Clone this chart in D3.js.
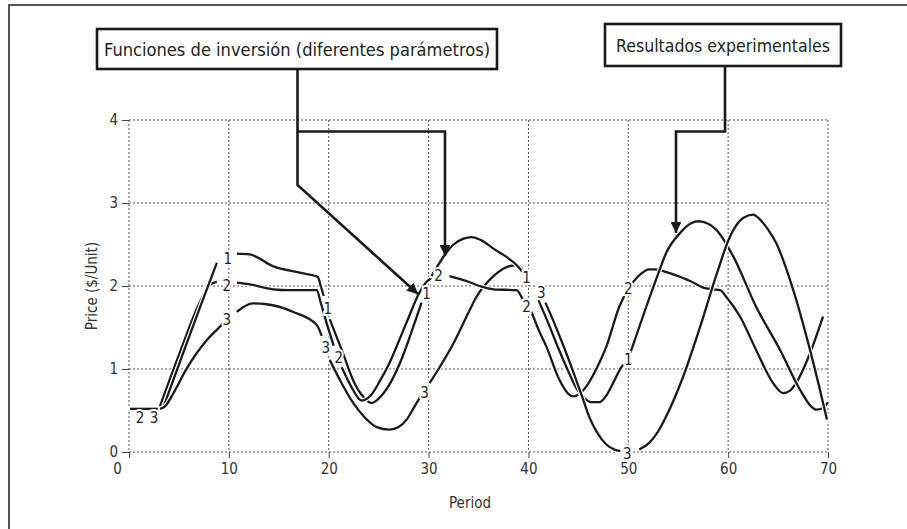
<!DOCTYPE html>
<html>
<head>
<meta charset="utf-8">
<script src="https://cdn.jsdelivr.net/npm/d3@7"></script>
<style>
  body { margin: 0; background: #fff; }
  svg { display: block; font-family: "DejaVu Sans Condensed", "DejaVu Sans", sans-serif; }
</style>
</head>
<body>
<div id="chart"></div>
<script>
const width = 907, height = 529;
const margin = {top: 120, right: 79, bottom: 77, left: 129};
const innerWidth = width - margin.left - margin.right;
const innerHeight = height - margin.top - margin.bottom;

// axis ticks
const periodTicks = [0, 10, 20, 30, 40, 50, 60, 70];
const priceTicks = [0, 1, 2, 3, 4];

// curve pieces [period, price], broken where the 1/2/3 labels sit
const flatStart = [[0.1, 0.52], [3.1, 0.52]];
const rise2 = [[3.1, 0.55], [5, 1.17], [7, 1.78], [7.9, 1.98], [8.3, 2.03], [8.8, 2.05]];
const rise1 = [[3.5, 0.56], [5.2, 1.12], [7.1, 1.74], [8.8, 2.28]];
const rise3 = [[3.1, 0.52], [3.6, 0.55], [4.5, 0.72], [5.7, 0.99], [7.8, 1.35], [9.1, 1.51], [9.4, 1.55]];

const top1 = [[10.8, 2.39], [12.1, 2.38], [14.4, 2.24], [17.1, 2.16], [18.9, 2.11], [19.2, 2.0], [19.5, 1.88]];
const top2 = [[10.8, 2.04], [12.1, 2.02], [14.4, 1.96], [16, 1.95], [18.8, 1.95], [19.2, 1.8], [19.8, 1.55], [20.5, 1.28]];
const top3 = [[10.8, 1.69], [12.4, 1.79], [13.8, 1.78], [16.4, 1.69], [18.8, 1.53], [19.3, 1.4]];

const dip1 = [[20.1, 1.6], [21.4, 1.2], [22.5, 0.85], [23.5, 0.66], [24.3, 0.59], [25.3, 0.68], [26.3, 0.86], [27.3, 1.12], [28.3, 1.45], [29.3, 1.8]];
const dip2 = [[21.3, 1.02], [22.2, 0.8], [23.3, 0.62], [24.2, 0.68], [25.1, 0.85], [26, 1.05], [27, 1.33], [28, 1.62], [29, 1.9], [29.8, 2.05], [30.3, 2.1]];
const dip3 = [[20.1, 1.11], [21.2, 0.85], [22.4, 0.6], [23.5, 0.43], [24.8, 0.3], [26.1, 0.27], [27, 0.3], [27.8, 0.39], [28.6, 0.55], [29.2, 0.67]];

const hump1 = [[30.3, 2.12], [31, 2.26], [31.6, 2.37], [32.5, 2.5], [33.5, 2.57], [34.3, 2.59], [35.3, 2.55], [36.5, 2.45], [37.8, 2.35], [39, 2.23], [39.4, 2.17]];
const hump2 = [[32.1, 2.12], [33.8, 2.06], [35.1, 2.0], [36.5, 1.96], [38.8, 1.95], [39.3, 1.87], [39.5, 1.82]];
const hump3 = [[30.1, 0.83], [31, 1.0], [32.5, 1.31], [34, 1.68], [34.8, 1.87], [36.5, 2.12], [38.1, 2.24], [38.8, 2.25], [39.4, 2.2]];

const fall2 = [[40.3, 1.69], [41.1, 1.45], [41.8, 1.27], [43.1, 0.87], [44, 0.7], [44.5, 0.67], [45, 0.69], [45.8, 0.79], [46.8, 1.0], [47.8, 1.27], [49.1, 1.75], [49.6, 1.88]];
const fall1 = [[41.0, 1.83], [42, 1.55], [43, 1.25], [44, 0.97], [44.8, 0.77], [45.6, 0.65], [46.3, 0.6], [47.1, 0.6], [47.8, 0.68], [48.6, 0.86], [49.3, 1.02], [49.5, 1.05]];
const fall3 = [[41.7, 1.8], [42.6, 1.55], [43.6, 1.25], [44.6, 0.93], [45.4, 0.66], [46.1, 0.42], [46.9, 0.23], [47.8, 0.09], [48.6, 0.03], [49.2, 0.01]];

const wave2 = [[50.3, 2.02], [51.2, 2.14], [52.1, 2.2], [52.6, 2.2], [53.5, 2.18], [54.5, 2.14], [56.2, 2.06], [57.5, 1.98], [58.5, 1.96], [59.2, 1.95], [59.8, 1.87], [61.2, 1.63], [62.8, 1.23], [64.5, 0.83], [65.5, 0.71], [66.2, 0.74], [66.8, 0.83], [68.2, 1.19], [69.5, 1.63]];
const wave1 = [[50.2, 1.19], [51.8, 1.75], [53, 2.15], [53.8, 2.4], [55.2, 2.64], [56.2, 2.75], [57, 2.78], [58, 2.75], [58.8, 2.68], [60.5, 2.36], [62.8, 1.75], [65.2, 1.23], [67.2, 0.75], [68.3, 0.55], [68.8, 0.51], [69.5, 0.53], [70, 0.6]];
const wave3 = [[51.1, 0.03], [52.1, 0.11], [53, 0.25], [53.8, 0.43], [55.5, 0.91], [57.2, 1.51], [58.9, 2.16], [60.2, 2.6], [61.5, 2.82], [62.5, 2.86], [63.2, 2.8], [64, 2.68], [64.8, 2.52], [66.5, 1.96], [68.2, 1.23], [69.9, 0.39]];

const pieces = [flatStart, rise2, rise1, rise3, top1, top2, top3, dip3, dip1, dip2,
  hump3, hump1, hump2, fall2, fall1, fall3, wave2, wave1, wave3];

// curve number labels [text, period, price]
const curveLabels = [
  ["2", 1.1, 0.41], ["3", 2.5, 0.41],
  ["1", 9.9, 2.32], ["2", 9.8, 2.0], ["3", 9.8, 1.59],
  ["1", 19.9, 1.72], ["3", 19.7, 1.25], ["2", 21.0, 1.13],
  ["1", 29.8, 1.9], ["2", 31.0, 2.12], ["3", 29.6, 0.71],
  ["1", 39.8, 2.1], ["3", 41.3, 1.92], ["2", 39.8, 1.75],
  ["2", 50.0, 1.96], ["1", 50.0, 1.11], ["3", 49.9, -0.02]
];

const svg = d3.select("#chart")
  .append("svg")
  .attr("width", width)
  .attr("height", height);

// arrow marker
svg.append("defs").append("marker")
  .attr("id", "head")
  .attr("viewBox", "0 0 10 10")
  .attr("refX", 10)
  .attr("refY", 5)
  .attr("markerWidth", 4.2)
  .attr("markerHeight", 4.2)
  .attr("markerUnits", "strokeWidth")
  .attr("orient", "auto")
  .append("path")
  .attr("d", "M0,0 L10,5 L0,10 Z")
  .attr("fill", "#1a1a1a");

// frame (top and left edges only)
svg.append("path")
  .attr("d", `M9,${height} L9,5 L${width},5`)
  .attr("fill", "none")
  .attr("stroke", "#555")
  .attr("stroke-width", 2);

const innerChart = svg.append("g")
  .attr("transform", `translate(${margin.left},${margin.top})`);

const xScale = d3.scaleLinear()
  .domain([0, 70])
  .range([0, innerWidth]);

const yScale = d3.scaleLinear()
  .domain([0, 4])
  .range([innerHeight, 0]);

// dotted grid (also serves as the axis lines)
innerChart.append("g")
  .selectAll("line")
  .data(periodTicks)
  .join("line")
  .attr("x1", d => xScale(d)).attr("x2", d => xScale(d))
  .attr("y1", 0).attr("y2", innerHeight)
  .attr("stroke", "#555")
  .attr("stroke-width", 1)
  .attr("stroke-dasharray", "2,2");

innerChart.append("g")
  .selectAll("line")
  .data(priceTicks)
  .join("line")
  .attr("x1", 0).attr("x2", innerWidth)
  .attr("y1", d => yScale(d)).attr("y2", d => yScale(d))
  .attr("stroke", "#555")
  .attr("stroke-width", 1)
  .attr("stroke-dasharray", "2,2");

// axes
const bottomAxis = d3.axisBottom(xScale)
  .tickValues(periodTicks)
  .tickFormat(d3.format("d"))
  .tickSize(6)
  .tickPadding(5);

const xAxis = innerChart.append("g")
  .attr("transform", `translate(0, ${innerHeight})`)
  .call(bottomAxis);

const leftAxis = d3.axisLeft(yScale)
  .tickValues(priceTicks)
  .tickFormat(d3.format("d"))
  .tickSize(7)
  .tickPadding(4);

const yAxis = innerChart.append("g")
  .call(leftAxis);

[xAxis, yAxis].forEach(ax => {
  ax.select(".domain").remove();
  ax.selectAll(".tick line").attr("stroke", "#444");
  ax.selectAll(".tick text")
    .attr("fill", "#333")
    .style("font-size", "15px")
    .style("font-family", "'DejaVu Sans Condensed', 'DejaVu Sans', sans-serif");
});
// the period "0" sits left of its tick
xAxis.selectAll(".tick text").filter(d => d === 0).attr("dx", "-12");

// curves: white casing under each black stroke
const line = d3.line()
  .x(d => xScale(d[0]))
  .y(d => yScale(d[1]))
  .curve(d3.curveMonotoneX);

const curves = innerChart.append("g");
pieces.forEach(p => {
  curves.append("path")
    .attr("d", line(p))
    .attr("fill", "none")
    .attr("stroke", "#fff")
    .attr("stroke-width", 4.6)
    .attr("stroke-linecap", "round");
  curves.append("path")
    .attr("d", line(p))
    .attr("fill", "none")
    .attr("stroke", "#1a1a1a")
    .attr("stroke-width", 2.3)
    .attr("stroke-linecap", "butt");
});

innerChart.append("g")
  .selectAll("text")
  .data(curveLabels)
  .join("text")
  .attr("x", d => xScale(d[1]))
  .attr("y", d => yScale(d[2]))
  .attr("text-anchor", "middle")
  .attr("dominant-baseline", "central")
  .attr("font-size", 15)
  .attr("fill", "#222")
  .attr("stroke", "#fff")
  .attr("stroke-width", 4)
  .attr("paint-order", "stroke")
  .text(d => d[0]);

// axis titles
svg.append("text")
  .text("Period")
  .attr("text-anchor", "middle")
  .attr("x", 470)
  .attr("y", 508)
  .attr("font-size", 15)
  .attr("fill", "#333");

svg.append("text")
  .text("Price ($/Unit)")
  .attr("text-anchor", "middle")
  .attr("transform", `translate(97, ${margin.top + innerHeight / 2}) rotate(-90)`)
  .attr("font-size", 15)
  .attr("fill", "#333");

// callout boxes
const callouts = [
  {text: "Funciones de inversión (diferentes parámetros)", x: 97, y: 29, w: 400, h: 40, tl: 386},
  {text: "Resultados experimentales", x: 605, y: 24, w: 236, h: 42, tl: 214}
];

callouts.forEach(c => {
  svg.append("rect")
    .attr("x", c.x).attr("y", c.y)
    .attr("width", c.w).attr("height", c.h)
    .attr("fill", "#fff")
    .attr("stroke", "#1a1a1a")
    .attr("stroke-width", 2.6);
  svg.append("text")
    .text(c.text)
    .attr("x", c.x + c.w / 2)
    .attr("y", c.y + c.h / 2)
    .attr("text-anchor", "middle")
    .attr("dominant-baseline", "central")
    .attr("font-size", 18)
    .attr("textLength", c.tl)
    .attr("lengthAdjust", "spacingAndGlyphs")
    .attr("fill", "#222");
});

// leader arrows
const arrows = [
  "M297.5,69 L297.5,185 L418,294",
  "M297.5,131.5 L445,131.5 L445,256",
  "M725,66 L725,131.5 L676,131.5 L676,233"
];
svg.append("g")
  .selectAll("path")
  .data(arrows)
  .join("path")
  .attr("d", d => d)
  .attr("fill", "none")
  .attr("stroke", "#1a1a1a")
  .attr("stroke-width", 2.6)
  .attr("stroke-linejoin", "miter")
  .attr("marker-end", "url(#head)");
</script>
</body>
</html>
